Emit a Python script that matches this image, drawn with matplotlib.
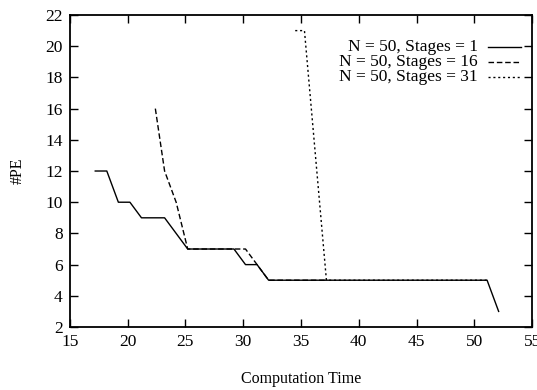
import matplotlib
matplotlib.use("Agg")
import matplotlib.pyplot as plt
from matplotlib.lines import Line2D

# Data
s1_x = [17.2, 18.2, 19.2, 20.2, 21.2, 23.2, 25.2, 29.2, 30.2, 31.2, 32.2, 51.1, 52.1]
s1_y = [12, 12, 10, 10, 9, 9, 7, 7, 6, 6, 5, 5, 3]

s16_x = [22.4, 23.2, 24.2, 25.2, 30.2, 31.2, 32.2, 37.2]
s16_y = [16, 12, 10, 7, 7, 6, 5, 5]

s31_x = [34.5, 35.3, 37.2, 51.1]
s31_y = [21, 21, 5, 5]

labels = ["N = 50, Stages = 1", "N = 50, Stages = 16", "N = 50, Stages = 31"]
xticks = [15, 20, 25, 30, 35, 40, 45, 50, 55]
yticks = [2, 4, 6, 8, 10, 12, 14, 16, 18, 20, 22]

plt.rcParams['font.family'] = ['Liberation Serif', 'DejaVu Serif']

fig = plt.figure(figsize=(5.37, 3.90), dpi=100)
ax = fig.add_axes([0.130, 0.1615, 0.861, 0.800])

styles = [dict(ls='-'), dict(ls=(0, (4, 2))), dict(ls=(0, (1.5, 2)))]
series = [(s1_x, s1_y), (s16_x, s16_y), (s31_x, s31_y)]
for (x, y), st in zip(series, styles):
    ax.plot(x, y, color='black', lw=1.0, **st)

ax.set_xlim(15, 55)
ax.set_ylim(2, 22)
ax.set_xticks(xticks)
ax.set_yticks(yticks)
ax.tick_params(direction='in', length=6, width=1, top=True, right=True,
               labelsize=12.5, pad=5)
for sp in ax.spines.values():
    sp.set_linewidth(1.3)

ax.set_xlabel("Computation Time", fontsize=11.5, labelpad=15)
ax.set_ylabel("#PE", fontsize=11.5, labelpad=14)

# gnuplot-style legend: right-aligned text, sample line to the right
ys = [0.897, 0.849, 0.800]
for lab, st, yy in zip(labels, styles, ys):
    ax.text(0.883, yy, lab, transform=ax.transAxes, ha='right', va='center',
            fontsize=12.5)
    ax.add_line(Line2D([0.905, 0.975], [yy, yy], transform=ax.transAxes,
                       color='black', lw=1.0, **st))

fig.savefig("out.png", dpi=100)
